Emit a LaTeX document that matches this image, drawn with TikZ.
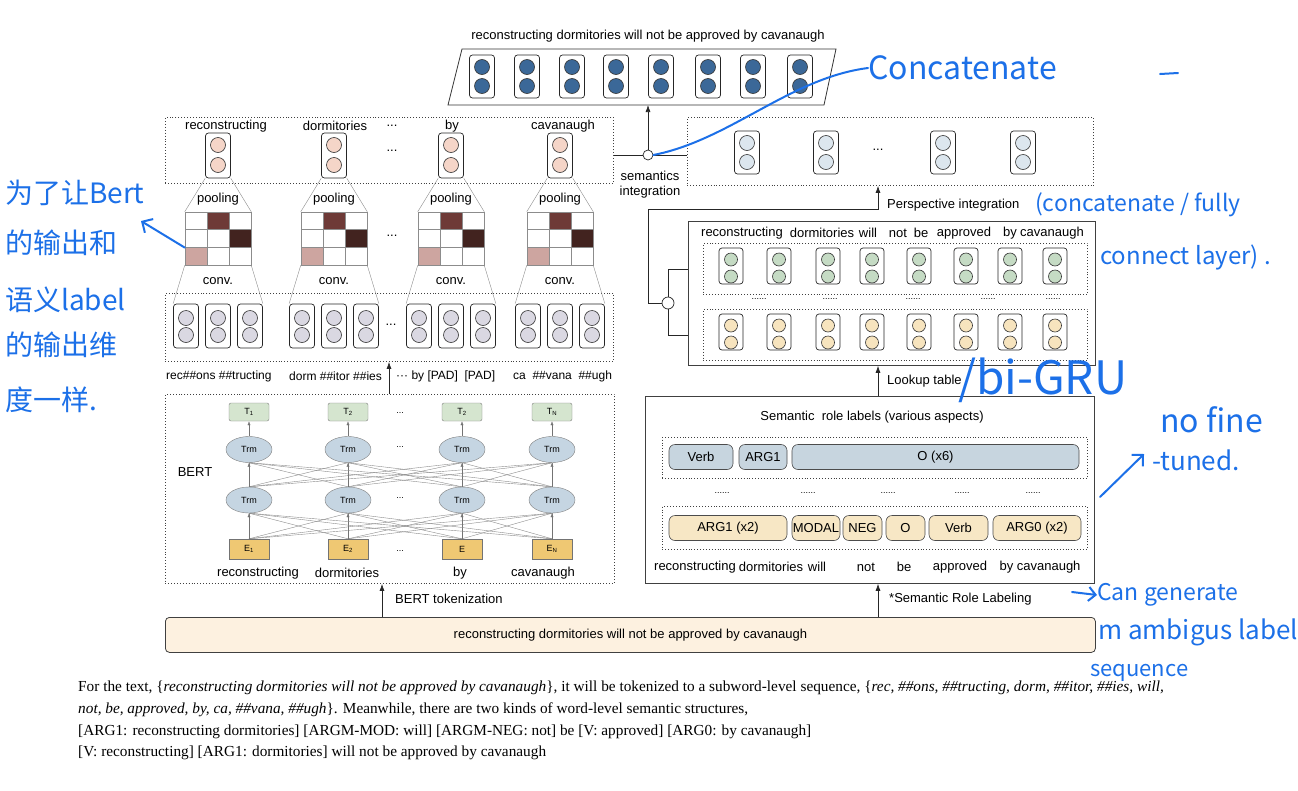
\documentclass[tikz,border=0pt]{standalone}
\usepackage{fontspec}
\setmainfont{Liberation Sans}
\newfontfamily\parafont{Liberation Serif}
\newfontfamily\handfont{Noto Sans CJK SC}
\usetikzlibrary{shapes.geometric,arrows.meta,calc}

\definecolor{outblue}{RGB}{59,104,152}
\definecolor{pinkdot}{RGB}{245,213,200}
\definecolor{greydot}{RGB}{218,216,226}
\definecolor{persdot}{RGB}{220,230,238}
\definecolor{greendot}{RGB}{197,219,196}
\definecolor{yellowdot}{RGB}{247,228,190}
\definecolor{matdark}{RGB}{110,58,55}
\definecolor{matdarker}{RGB}{66,35,31}
\definecolor{matlight}{RGB}{205,165,160}
\definecolor{tgreen}{RGB}{213,229,207}
\definecolor{trmblue}{RGB}{197,213,226}
\definecolor{eorange}{RGB}{239,200,115}
\definecolor{pillblue}{RGB}{199,213,223}
\definecolor{pillyellow}{RGB}{247,231,197}
\definecolor{inbarfill}{RGB}{253,241,224}
\definecolor{annotblue}{RGB}{28,112,232}

\tikzset{
  dbox/.style={draw=black!75, dotted, line width=0.9pt, anchor=north west, inner sep=0pt},
  sbox/.style={draw=black!75, line width=0.8pt, anchor=north west, inner sep=0pt},
  cell/.style={draw=black!85, rounded corners=3pt, line width=0.7pt, minimum width=25pt, minimum height=44pt, inner sep=0pt},
  dot/.style={circle, draw=black!80, line width=0.6pt, minimum size=15pt, inner sep=0pt},
  lbl/.style={font=\fontsize{13}{15}\selectfont, inner sep=0pt},
  toklbl/.style={font=\fontsize{12}{14}\selectfont, inner sep=0pt, anchor=west},
  small/.style={font=\fontsize{9}{10}\selectfont, inner sep=0pt},
  arr/.style={-{Latex[length=7pt,width=5pt]}, line width=0.7pt, black!85},
  tinyarr/.style={-{Latex[length=4pt,width=3pt]}, line width=0.4pt, black!55},
  thinline/.style={draw=black!45, line width=0.4pt},
  matline/.style={draw=black!45, line width=0.5pt},
  link/.style={draw=black!85, line width=0.7pt},
  pill/.style={draw=black!70, line width=0.6pt, rounded corners=6pt, minimum height=25pt, inner sep=0pt, font=\fontsize{13}{15}\selectfont},
  tnode/.style={draw=black!50, fill=tgreen, rounded corners=2pt, minimum width=40pt, minimum height=18pt, inner sep=0pt, small},
  trm/.style={ellipse, draw=black!50, fill=trmblue, minimum width=46pt, minimum height=26pt, inner sep=0pt, small},
  enode/.style={draw=black!55, fill=eorange, minimum width=40pt, minimum height=20pt, inner sep=0pt, small},
  para/.style={font=\parafont\fontsize{15.3}{18}\selectfont, inner sep=0pt, anchor=base west},
  annot/.style={annotblue, line width=2pt, line cap=round},
  hand/.style={text=annotblue, inner sep=0pt, anchor=west, font=\handfont\fontsize{#1}{#1}\selectfont},
}

\begin{document}
\begin{tikzpicture}[x=1pt, y=-1pt]
  \fill[white] (0,0) rectangle (1298,790);
  \useasboundingbox (0,0) rectangle (1298,790);

  % Output sequence
  \node[lbl] (outtitle) at (648,36) {reconstructing dormitories will not be approved by cavanaugh};
  \draw[line width=0.8pt, black!80] (462,49) -- (836,49) -- (824,105) -- (448,105) -- cycle;
  \coordinate (outbot) at (648,105);
  \foreach \x [count=\i] in {482,527,572,616,661,708,753,800} {
    \node[cell, minimum height=43pt] (out\i) at (\x,76.5) {};
    \node[dot, fill=outblue] (outa\i) at (\x,67) {};
    \node[dot, fill=outblue] (outb\i) at (\x,86) {};
  }

  % Word-level features from BERT
  \node[dbox, minimum width=448pt, minimum height=66pt] (wordbox) at (165,117) {};
  \node[dbox, minimum width=448pt, minimum height=68pt] (subbox) at (165,293) {};
  \foreach \m/\lx/\w [count=\i] in {218/226/reconstructing, 334/335/dormitories, 451/452/by, 560/563/cavanaugh} {
    \node[lbl] (wlab\i) at (\lx,126) {\w};
    \node[cell, minimum height=45pt] (wc\i) at (\m,155.5) {};
    \node[dot, fill=pinkdot] (wca\i) at (\m,145) {};
    \node[dot, fill=pinkdot] (wcb\i) at (\m,165) {};
    % pooled matrix
    \fill[white] (\m-33,212) rectangle (\m+33,265);
    \fill[matdark] (\m-11,212) rectangle (\m+11,229.67);
    \fill[matdarker] (\m+11,229.67) rectangle (\m+33,247.33);
    \fill[matlight] (\m-33,247.33) rectangle (\m-11,265);
    \draw[matline] (\m-11,212) -- (\m-11,265);
    \draw[matline] (\m+11,212) -- (\m+11,265);
    \draw[matline] (\m-33,229.67) -- (\m+33,229.67);
    \draw[matline] (\m-33,247.33) -- (\m+33,247.33);
    \node[draw=black!45, line width=0.5pt, minimum width=66pt, minimum height=53pt, inner sep=0pt] (mat\i) at (\m,238.5) {};
    \node[lbl] (pool\i) at (\m,199) {pooling};
    \node[lbl] (conv\i) at (\m,281) {conv.};
    % subword cells
    \foreach \d [count=\j] in {-32,0,32} {
      \node[cell] (sc\i\j) at (\m+\d,326) {};
      \node[dot, fill=greydot] (sca\i\j) at (\m+\d,318) {};
      \node[dot, fill=greydot] (scb\i\j) at (\m+\d,335) {};
    }
    \draw[thinline] (wc\i.south west) -- (mat\i.north west);
    \draw[thinline] (wc\i.south east) -- (mat\i.north east);
    \draw[thinline] (mat\i.south west) -- (sc\i1.north west);
    \draw[thinline] (mat\i.south east) -- (sc\i3.north east);
  }
  \node[lbl] (wdots1) at (392,126) {...};
  \node[lbl] (wdots2) at (392,151) {...};
  \node[lbl] (wdots3) at (392,236) {...};
  \node[lbl] (wdots4) at (391,325) {...};

  % Subword tokens
  \node[toklbl] (tok1) at (166,376) {rec\#\#ons \#\#tructing};
  \node[toklbl] (tok2) at (289,376) {dorm \#\#itor \#\#ies};
  \node[toklbl] (tok3) at (396,376) {··· by [PAD]\ \ [PAD]};
  \node[toklbl] (tok4) at (513,376) {ca\ \ \#\#vana\ \ \#\#ugh};

  % BERT
  \node[dbox, minimum width=449pt, minimum height=189pt] (bertbox) at (165,394) {};
  \node[lbl] (bertlab) at (195,472) {BERT};
  \foreach \x/\t/\e/\wx/\w [count=\i] in {249/T\textsubscript{1}/E\textsubscript{1}/258/reconstructing,
      348/T\textsubscript{2}/E\textsubscript{2}/347/dormitories,
      462/T\textsubscript{2}/E/460/by,
      552/T\textsubscript{N}/E\textsubscript{N}/543/cavanaugh} {
    \node[tnode] (t\i) at (\x,412) {\t};
    \node[trm] (tt\i) at (\x,449.5) {Trm};
    \node[trm] (tb\i) at (\x,500) {Trm};
    \node[enode] (e\i) at (\x,549) {\e};
    \node[lbl] (bw\i) at (\wx,573) {\w};
  }
  \foreach \i in {1,...,4} {
    \foreach \j in {1,...,4} {
      \draw[thinline] (e\i.north) -- (tb\j.south);
      \draw[thinline] (tb\i.north) -- (tt\j.south);
    }
    \draw[tinyarr] (e\i.north) -- (tb\i.south);
    \draw[tinyarr] (tb\i.north) -- (tt\i.south);
    \draw[tinyarr] (tt\i.north) -- (t\i.south);
  }
  \foreach \y [count=\i] in {413,447,498,551} {
    \node[small] (bdots\i) at (400,\y) {...};
  }

  % Semantics integration
  \node[circle, draw=black!85, line width=0.7pt, fill=white, minimum size=10pt, inner sep=0pt] (semint) at (648,155) {};
  \node[lbl, align=center] (semlab) at (650,184.5) {semantics\\integration};
  \node[dbox, minimum width=406pt, minimum height=68pt] (persbox) at (687,117) {};
  \draw[link] (wordbox.east |- semint) -- (semint.west);
  \draw[link] (semint.east) -- (persbox.west |- semint);
  \draw[arr] (semint.north) -- (outbot);
  \foreach \x [count=\i] in {747,826,943,1023} {
    \node[cell, minimum height=43pt] (pc\i) at (\x,152.5) {};
    \node[dot, fill=persdot] (pca\i) at (\x,143) {};
    \node[dot, fill=persdot] (pcb\i) at (\x,162) {};
  }
  \node[lbl] (pdots) at (878,150) {...};

  % SRL encoder
  \node[sbox, minimum width=407pt, minimum height=144pt] (srlenc) at (688,221) {};
  \foreach \x/\w [count=\i] in {742/reconstructing, 822/dormitories, 868/will, 898/not, 921/be, 964/approved, 1010/by, 1052/cavanaugh} {
    \node[lbl] (ew\i) at (\x,233) {\w};
  }
  \node[dbox, minimum width=384pt, minimum height=51pt] (greenbox) at (703,243) {};
  \node[dbox, minimum width=384pt, minimum height=51pt] (yellowbox) at (703,309) {};
  \foreach \x [count=\i] in {731,779,828,872,919,966,1010,1055} {
    \node[cell, minimum width=24pt, minimum height=36pt] (gc\i) at (\x,266) {};
    \node[dot, minimum size=13pt, fill=greendot] (gca\i) at (\x,259.5) {};
    \node[dot, minimum size=13pt, fill=greendot] (gcb\i) at (\x,276.5) {};
    \node[cell, minimum width=24pt, minimum height=36pt] (yc\i) at (\x,332) {};
    \node[dot, minimum size=13pt, fill=yellowdot] (yca\i) at (\x,325.5) {};
    \node[dot, minimum size=13pt, fill=yellowdot] (ycb\i) at (\x,342.5) {};
  }
  \foreach \x [count=\i] in {759,830,913,988,1053} {
    \node[small] (edots\i) at (\x,299) {......};
  }
  \node[circle, draw=black!85, line width=0.7pt, fill=white, minimum size=12pt, inner sep=0pt] (perscirc) at (668,303) {};
  \draw[link] (perscirc.north) |- (greenbox.west -| srlenc.west);
  \draw[link] (perscirc.south) |- (yellowbox.west -| srlenc.west);
  \coordinate (pbend) at (648,209);
  \coordinate (lk) at (878,0);
  \draw[arr] (perscirc.west) -| (pbend) -| (persbox.south -| lk);
  \node[lbl, anchor=west] (perslab) at (887,205) {Perspective integration};

  % Semantic role labels
  \node[sbox, minimum width=449pt, minimum height=187pt] (srlbox) at (645,396) {};
  \node[lbl] (srltitle) at (872,417) {Semantic\ \ role labels (various aspects)};
  \node[dbox, minimum width=425pt, minimum height=41pt] (bluebox) at (662,437) {};
  \node[dbox, minimum width=425pt, minimum height=43pt] (labbox) at (662,506) {};
  \foreach \x/\w/\t [count=\i] in {701/64/Verb, 763/48/ARG1, 935.5/287/O (x6)} {
    \node[pill, fill=pillblue, minimum width=\w pt] (bp\i) at (\x,457) {\t};
  }
  \foreach \x/\w/\t [count=\i] in {728/118/ARG1 (x2), 816/48/MODAL, 862.5/39/NEG, 905.5/39/O, 958.5/59/Verb, 1037/88/ARG0 (x2)} {
    \node[pill, fill=pillyellow, minimum width=\w pt] (yp\i) at (\x,528) {\t};
  }
  \foreach \x [count=\i] in {722,808,888,962,1033} {
    \node[small] (sdots\i) at (\x,493) {......};
  }
  \foreach \x/\w [count=\i] in {695/reconstructing, 771/dormitories, 817/will, 866/not, 904/be, 960/approved, 1040/by cavanaugh} {
    \node[lbl] (sw\i) at (\x,567) {\w};
  }
  \draw[arr] (srlbox.north -| lk) -- (srlenc.south -| lk);
  \node[lbl, anchor=west] (lookuplab) at (887,381) {Lookup table};

  % Input sentence
  \node[draw=black!75, line width=0.8pt, rounded corners=4pt, fill=inbarfill, minimum width=930pt, minimum height=35pt,
        anchor=north west, lbl] (inbar) at (165,617) {reconstructing dormitories will not be approved by cavanaugh};
  \coordinate (tk) at (382,0);
  \coordinate (sw) at (389,0);
  \draw[arr] (inbar.north -| tk) -- (bertbox.south -| tk);
  \draw[arr] (bertbox.north -| sw) -- (subbox.south -| sw);
  \draw[arr] (inbar.north -| lk) -- (srlbox.south -| lk);
  \node[lbl, anchor=west] (toklab) at (395,599) {BERT tokenization};
  \node[lbl, anchor=west] (srllab) at (889,599) {*Semantic Role Labeling};

  % Caption text
  \node[para] (p1) at (78,691) {For the text, \{\textit{reconstructing dormitories will not be approved by cavanaugh}\}, it will be tokenized to a subword-level sequence, \{\textit{rec, \#\#ons, \#\#tructing, dorm, \#\#itor, \#\#ies, will,}};
  \node[para] (p2) at (78,713) {\textit{not, be, approved, by, ca, \#\#vana, \#\#ugh}\}. Meanwhile, there are two kinds of word-level semantic structures,};
  \node[para] (p3) at (78,735) {[ARG1: reconstructing dormitories] [ARGM-MOD: will] [ARGM-NEG: not] be [V: approved] [ARG0: by cavanaugh]};
  \node[para] (p4) at (78,756) {[V: reconstructing] [ARG1: dormitories] will not be approved by cavanaugh};

  % Handwritten notes
  \node[hand=32] (concat) at (868,68) {Concatenate};
  \draw[annot] (semint.east) .. controls (730,140) and (790,78) .. (concat.west);
  \draw[annot] (1160,74) -- (1178,73);
  \node[hand=23] (fullynote) at (1035,205) {(concatenate / fully};
  \node[hand=24] (layernote) at (1100,257) {connect layer) .};
  \node[hand=46] (grunote) at (958,380) {/bi-GRU};
  \node[hand=32] (finenote) at (1160,420) {no fine};
  \node[hand=26] (tunednote) at (1152,460) {-tuned.};
  \coordinate (finestart) at (1100,497);
  \draw[annot, -{Straight Barb[length=8pt]}] (finestart) -- ($(tunednote.west)+(-8,-6)$);
  \node[hand=23] (gennote) at (1097,595) {Can generate};
  \coordinate (genstart) at (1072,592);
  \draw[annot, -{Straight Barb[length=7pt]}] (genstart) -- (gennote.west);
  \node[hand=26] (ambnote) at (1098,632) {m ambigus label};
  \node[hand=22] (seqnote) at (1090,673) {sequence};
  \node[hand=28] (zh1) at (5,193) {为了让Bert};
  \node[hand=28] (zh2) at (5,243) {的输出和};
  \node[hand=28] (zh3) at (5,300) {语义label};
  \node[hand=28] (zh4) at (5,345) {的输出维};
  \node[hand=28] (zh5) at (5,400) {度一样.};
  \coordinate (zhpoint) at (141,221);
  \draw[annot, -{Straight Barb[length=8pt]}] ($(mat1.south west)!0.33!(mat1.north west)$) -- (zhpoint);
\end{tikzpicture}
\end{document}
